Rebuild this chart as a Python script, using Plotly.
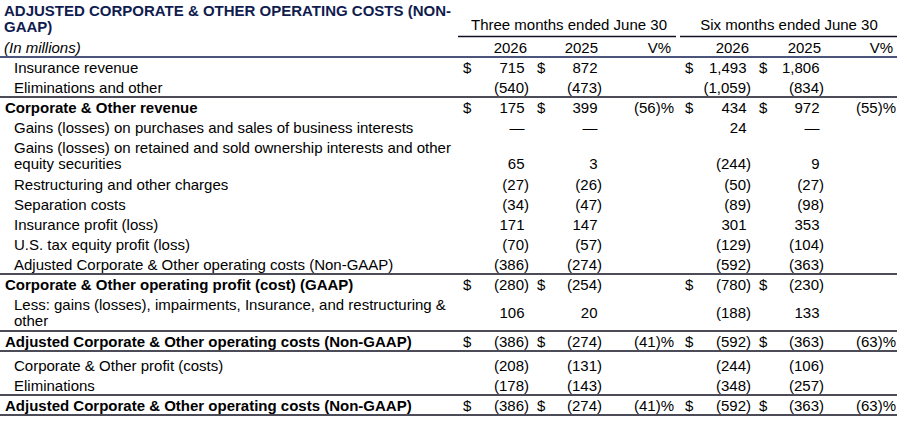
import plotly.graph_objects as go

# ---- data -------------------------------------------------------------
title = "ADJUSTED CORPORATE & OTHER OPERATING COSTS (NON-<br>GAAP)"
unit_label = "(In millions)"
period_headers = ["Three months ended June 30", "Six months ended June 30"]
column_headers = ["2026", "2025", "V%", "2026", "2025", "V%"]

row_labels = [
    "Insurance revenue",
    "Eliminations and other",
    "Corporate & Other revenue",
    "Gains (losses) on purchases and sales of business interests",
    "Gains (losses) on retained and sold ownership interests and other<br>equity securities",
    "Restructuring and other charges",
    "Separation costs",
    "Insurance profit (loss)",
    "U.S. tax equity profit (loss)",
    "Adjusted Corporate & Other operating costs (Non-GAAP)",
    "Corporate & Other operating profit (cost) (GAAP)",
    "Less: gains (losses), impairments, Insurance, and restructuring &<br>other",
    "Adjusted Corporate & Other operating costs (Non-GAAP)",
    "Corporate & Other profit (costs)",
    "Eliminations",
    "Adjusted Corporate & Other operating costs (Non-GAAP)",
]
bold_rows = [False, False, True, False, False, False, False, False,
             False, False, True, False, True, False, False, True]
dollar_rows = [True, False, True, False, False, False, False, False,
               False, False, True, False, True, False, False, True]

q_2026 = [715, -540, 175, 0, 65, -27, -34, 171, -70, -386, -280, 106, -386, -208, -178, -386]
q_2025 = [872, -473, 399, 0, 3, -26, -47, 147, -57, -274, -254, 20, -274, -131, -143, -274]
q_var = [None, None, -56, None, None, None, None, None, None, None, None, None, -41, None, None, -41]
h_2026 = [1493, -1059, 434, 24, -244, -50, -89, 301, -129, -592, -780, -188, -592, -244, -348, -592]
h_2025 = [1806, -834, 972, 0, 9, -27, -98, 353, -104, -363, -230, 133, -363, -106, -257, -363]
h_var = [None, None, -55, None, None, None, None, None, None, None, None, None, -63, None, None, -63]

# ---- layout ------------------------------------------------------------
W, H = 907, 421
FONT = "Liberation Sans, Arial, sans-serif"
FS = 15
NAVY = "#101c4f"
LINE = "#111122"
TEXT_DY = 1.8  # plotly's "middle" sits a bit high for this font

top = 57
pitch = 20
extra_line = 17
gap_before = {13: 4}
rule_after = [1, 9, 11, 12, 14, 15]

row_y, row_bottom = [], []
y = top
for i, lab in enumerate(row_labels):
    y += gap_before.get(i, 0)
    h = pitch + extra_line * lab.count("<br>")
    row_y.append(y + h / 2)
    row_bottom.append(y + h)
    y += h

# right edge of value columns (parenthesis edge), dollar sign left edge
value_cols = [(q_2026, 529, 463), (q_2025, 602, 537), (h_2026, 751, 685), (h_2025, 824, 759)]
var_cols = [(q_var, 674), (h_var, 896)]
header_right = [527, 598, 671, 749, 821, 893]
period_center = [569, 789]
paren_hang = 4.5


def fmt(v):
    if v is None:
        return ""
    if v == 0:
        return "\u2014"
    s = f"{abs(v):,}"
    return f"({s})" if v < 0 else s


def text_trace(xs, ys, texts, pos, color="black", size=FS):
    return go.Scatter(
        x=xs, y=[v + TEXT_DY for v in ys], text=texts, mode="text", textposition=pos,
        textfont=dict(family=FONT, size=size, color=color),
        marker=dict(size=0), hoverinfo="skip", showlegend=False,
    )


fig = go.Figure()

# title (two lines, tight leading)
title_lines = title.split("<br>")
fig.add_trace(text_trace([4] * len(title_lines), [10.5 + 16 * i for i in range(len(title_lines))],
                         [f"<b>{t}</b>" for t in title_lines], "middle right", NAVY))

# period + column headers
fig.add_trace(text_trace(period_center, [24, 24], period_headers, "middle center"))
fig.add_trace(text_trace(header_right, [47] * 6, column_headers, "middle left"))
fig.add_trace(text_trace([4], [47], [f"<i>{unit_label}</i>"], "middle right"))

# row labels
lx, ly, lt = [], [], []
for i, lab in enumerate(row_labels):
    parts = lab.split("<br>")
    for k, p in enumerate(parts):
        lx.append(5 if bold_rows[i] else 14)
        ly.append(row_y[i] + (k - (len(parts) - 1) / 2) * 16)
        lt.append(f"<b>{p}</b>" if bold_rows[i] else p)
fig.add_trace(text_trace(lx, ly, lt, "middle right"))

# values
vx, vy, vt = [], [], []
dx, dy = [], []
for vals, right, dollar_x in value_cols:
    for i, v in enumerate(vals):
        yv = row_bottom[i] - 11 if i == 4 else row_y[i]
        vx.append(right if (v is not None and v < 0) else right - paren_hang)
        vy.append(yv)
        vt.append(fmt(v))
        if dollar_rows[i]:
            dx.append(dollar_x)
            dy.append(yv)
for vals, right in var_cols:
    for i, v in enumerate(vals):
        if v is None:
            continue
        vx.append(right)
        vy.append(row_y[i])
        vt.append(f"({abs(v)})%" if v < 0 else f"{v}%")
fig.add_trace(text_trace(vx, vy, vt, "middle left"))
fig.add_trace(text_trace(dx, dy, ["$"] * len(dx), "middle right"))

# rules
shapes = [
    dict(type="line", x0=458, x1=676, y0=36.5, y1=36.5, line=dict(color=LINE, width=1.3)),
    dict(type="line", x0=680, x1=897, y0=36.5, y1=36.5, line=dict(color=LINE, width=1.3)),
    dict(type="line", x0=0, x1=897, y0=top, y1=top, line=dict(color=NAVY, width=1.3)),
]
for i in rule_after:
    shapes.append(dict(type="line", x0=0, x1=897, y0=row_bottom[i], y1=row_bottom[i],
                       line=dict(color=LINE, width=1.3)))

fig.update_layout(
    width=W, height=H, margin=dict(l=0, r=0, t=0, b=0),
    paper_bgcolor="white", plot_bgcolor="white",
    xaxis=dict(range=[0, W], visible=False, fixedrange=True),
    yaxis=dict(range=[H, 0], visible=False, fixedrange=True),
    shapes=shapes,
)

# the page's default 8px body margin would push the table off the window
fig.write_html("out.html", config={"displayModeBar": False, "staticPlot": True},
               post_script="document.body.style.margin='0';document.body.style.overflow='hidden';")
